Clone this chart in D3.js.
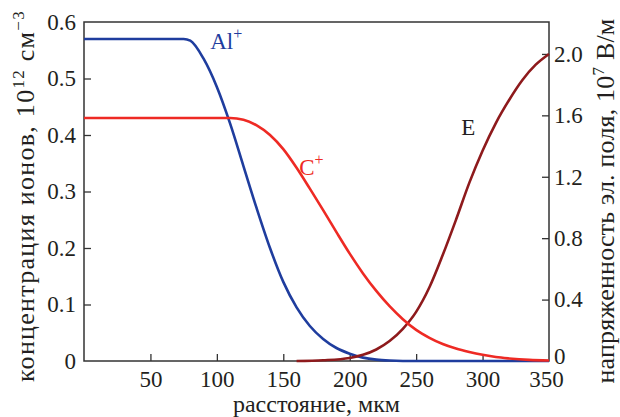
<!DOCTYPE html>
<meta charset="utf-8">
<head>
<style>
body { margin: 0; background: #fff; }
svg text { font-family: "Liberation Serif", "DejaVu Serif", serif; }
.frame { fill: none; stroke: #333; stroke-width: 1.5px; }
.tick line { stroke: #333; stroke-width: 1.3px; }
.domain { display: none; }
.curve { fill: none; stroke-width: 2.6px; }
</style>
<script src="https://d3js.org/d3.v7.min.js"></script>
</head>
<body>
<script>

// distance, um
var xAl = [0, 75, 80, 90, 100, 110, 120, 130, 140, 150, 160, 170, 180, 190, 200, 210, 220, 230, 250, 350];
// Al+ concentration, 10^12 cm^-3
var yAl = [0.57, 0.57, 0.567, 0.535, 0.485, 0.42, 0.345, 0.27, 0.20, 0.14, 0.095, 0.062, 0.039, 0.023, 0.013, 0.006, 0.0025, 0.001, 0, 0];

var xC = [0, 110, 120, 130, 140, 150, 160, 170, 180, 190, 200, 210, 220, 230, 240, 250, 260, 270, 280, 290, 300, 310, 320, 335, 350];
// C+ concentration
var yC = [0.43, 0.43, 0.427, 0.417, 0.40, 0.375, 0.342, 0.305, 0.267, 0.228, 0.19, 0.155, 0.124, 0.097, 0.074, 0.055, 0.041, 0.03, 0.022, 0.016, 0.011, 0.007, 0.0045, 0.002, 0.001];

var xE = [160, 180, 200, 210, 220, 230, 240, 250, 260, 270, 280, 290, 300, 310, 320, 330, 340, 350];
// field strength, 10^7 V/m
var yE = [0, 0.005, 0.02, 0.04, 0.075, 0.13, 0.21, 0.32, 0.48, 0.69, 0.92, 1.16, 1.37, 1.55, 1.70, 1.83, 1.93, 2.0];

var xTicks = [50, 100, 150, 200, 250, 300, 350];
var leftTicks = [0, 0.1, 0.2, 0.3, 0.4, 0.5, 0.6];
var rightTicks = [0, 0.4, 0.8, 1.2, 1.6, 2.0];

var serif = "Liberation Serif, DejaVu Serif, serif";

var margin = {top: 22, right: 71, bottom: 56, left: 84},
    width = 620 - margin.left - margin.right,
    height = 417 - margin.top - margin.bottom;

var svg = d3.select("body").append("svg")
    .attr("width", 620)
    .attr("height", 417)
  .append("g")
    .attr("transform", "translate(" + margin.left + "," + margin.top + ")");

var x = d3.scaleLinear().domain([0, 350]).range([0, width]);
var y = d3.scaleLinear().domain([0, 0.6]).range([height, 0]);
var y2 = d3.scaleLinear().domain([0, 2.208]).range([height, 0]);

function styleTicks(g) {
  g.attr("font-family", serif).attr("font-size", 23);
  g.selectAll("text").attr("font-family", serif).attr("font-size", 23).attr("fill", "#231f20");
}

// bottom axis, ticks pointing inward
var gx = svg.append("g")
    .attr("transform", "translate(0," + height + ")")
    .call(d3.axisBottom(x).tickValues(xTicks).tickSize(-7).tickPadding(10).tickFormat(d3.format("d")));
styleTicks(gx);
gx.selectAll(".tick").filter(d => d == 350).select("line").remove();
gx.selectAll(".tick").filter(d => d == 350).select("text").attr("x", -3);

var gy = svg.append("g")
    .call(d3.axisLeft(y).tickValues(leftTicks).tickSize(-7).tickPadding(8).tickFormat(d => d == 0 ? "0" : d3.format(".1f")(d)));
styleTicks(gy);
gy.selectAll(".tick").filter(d => d == 0 || d == 0.6).select("line").remove();

var gy2 = svg.append("g")
    .attr("transform", "translate(" + width + ",0)")
    .call(d3.axisRight(y2).tickValues(rightTicks).tickSize(-7).tickPadding(5).tickFormat(d => d == 0 ? "0" : d3.format(".1f")(d)));
styleTicks(gy2);
gy2.selectAll(".tick").filter(d => d == 0).select("line").remove();
gy2.selectAll(".tick").filter(d => d == 0).select("text").attr("dy", "0.1em");

svg.append("rect").attr("class", "frame")
    .attr("width", width).attr("height", height);

function curve(xs, ys, scale, color) {
  var line = d3.line()
      .curve(d3.curveMonotoneX)
      .x((d, i) => x(xs[i]))
      .y(d => scale(d));
  svg.append("path")
      .datum(ys)
      .attr("class", "curve")
      .attr("stroke", color)
      .attr("d", line);
}

curve(xAl, yAl, y, "#1f3d9e");
curve(xE, yE, y2, "#8e1a1c");
curve(xC, yC, y, "#ee2a24");

function label(px, py, main, sup, color) {
  var t = svg.append("text").attr("x", px).attr("y", py)
      .attr("font-family", serif).attr("font-size", 23).attr("fill", color);
  t.append("tspan").text(main);
  if (sup) t.append("tspan").attr("dy", -10).attr("font-size", 16).text(sup);
}

// curve labels
label(x(95), y(0.552), "Al", "+", "#1f3d9e");
label(x(162), y(0.33), "C", "+", "#ee2a24");
label(x(284), y2(1.47), "E", null, "#231f20");

// axis titles
svg.append("text")
    .attr("x", width / 2).attr("y", height + 51)
    .attr("text-anchor", "middle")
    .attr("font-family", serif).attr("font-size", 24).attr("fill", "#231f20")
    .text("расстояние, мкм");

// rotated titles: stretched by letter spacing to the reference length
function vtitle(tx, cy, target, main, sup1, mid, sup2) {
  var t = svg.append("text")
      .attr("transform", "translate(" + tx + "," + cy + ") rotate(-90)")
      .attr("text-anchor", "middle")
      .attr("font-family", serif).attr("font-size", 26).attr("fill", "#231f20");
  t.append("tspan").text(main);
  t.append("tspan").attr("dy", -10).attr("font-size", 17).text(sup1);
  t.append("tspan").attr("dy", 10).text(mid);
  if (sup2) t.append("tspan").attr("dy", -10).attr("font-size", 17).text(sup2);
  var len = t.node().getComputedTextLength();
  var n = (main + sup1 + mid + (sup2 || "")).length;
  if (len < target) t.attr("letter-spacing", ((target - len) / n) + "px");
}

vtitle(-50, 196 - margin.top, 372, "концентрация ионов, 10", "12", " см", "−3");
vtitle(width + 65, 201 - margin.top, 365, "напряженность эл. поля, 10", "7", " В/м", null);

</script>
</body>
